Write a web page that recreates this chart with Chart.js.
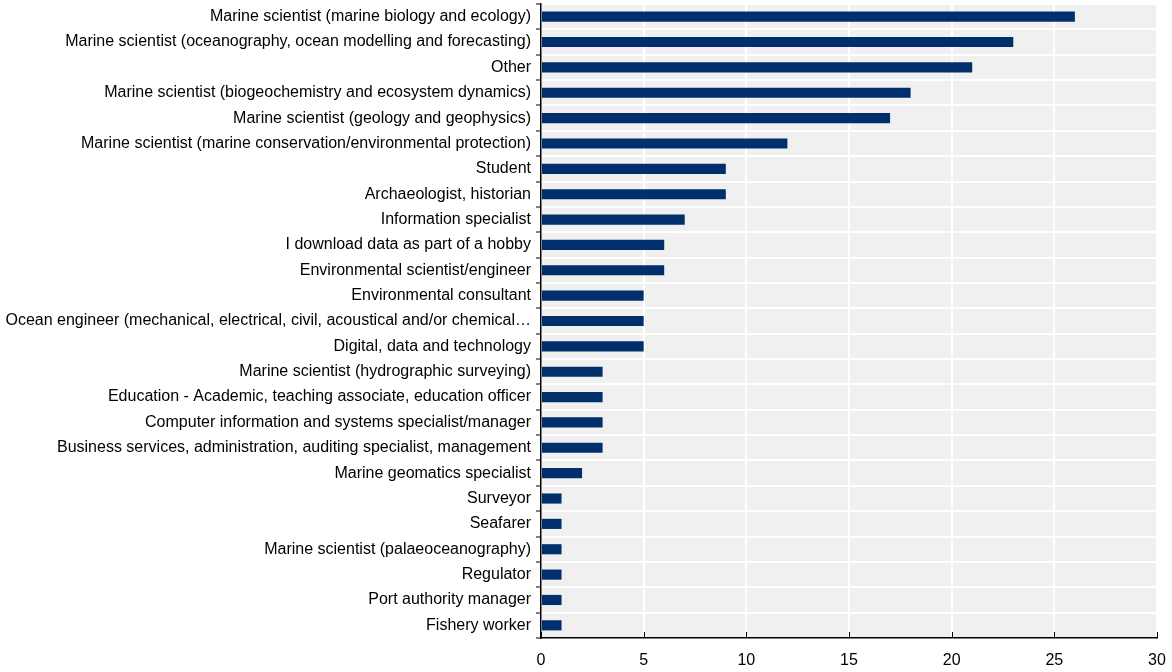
<!DOCTYPE html>
<html>
<head>
<meta charset="utf-8">
<script src="https://cdn.jsdelivr.net/npm/chart.js@4/dist/chart.umd.min.js"></script>
<style>
  html, body { margin: 0; padding: 0; background: #fff; }
  #wrap { width: 1172px; height: 672px; position: relative; }
</style>
</head>
<body>
<div id="wrap"><canvas id="chart"></canvas></div>
<script>
// Data
const categories = [
  'Marine scientist (marine biology and ecology)',
  'Marine scientist (oceanography, ocean modelling and forecasting)',
  'Other',
  'Marine scientist (biogeochemistry and ecosystem dynamics)',
  'Marine scientist (geology and geophysics)',
  'Marine scientist (marine conservation/environmental protection)',
  'Student',
  'Archaeologist, historian',
  'Information specialist',
  'I download data as part of a hobby',
  'Environmental scientist/engineer',
  'Environmental consultant',
  'Ocean engineer (mechanical, electrical, civil, acoustical and/or chemical…',
  'Digital, data and technology',
  'Marine scientist (hydrographic surveying)',
  'Education - Academic, teaching associate, education officer',
  'Computer information and systems specialist/manager',
  'Business services, administration, auditing specialist, management',
  'Marine geomatics specialist',
  'Surveyor',
  'Seafarer',
  'Marine scientist (palaeoceanography)',
  'Regulator',
  'Port authority manager',
  'Fishery worker'
];
const respondents = [26, 23, 21, 18, 17, 12, 9, 9, 7, 6, 6, 5, 5, 5, 3, 3, 3, 3, 2, 1, 1, 1, 1, 1, 1];
const xTicks = [0, 5, 10, 15, 20, 25, 30];

const FONT = "'Liberation Sans Narrow', 'Arial Narrow', 'Liberation Sans', Arial, sans-serif";

// plot background + inner tick marks on the x axis
const plotDecor = {
  id: 'plotDecor',
  beforeDraw(chart) {
    const { ctx, chartArea: a } = chart;
    ctx.save();
    ctx.fillStyle = '#f0f0f0';
    ctx.fillRect(a.left, a.top, a.right - a.left, a.bottom - a.top);
    ctx.restore();
  },
  afterDraw(chart) {
    const { ctx, chartArea: a, scales } = chart;
    ctx.save();
    ctx.strokeStyle = '#000';
    ctx.lineWidth = 1;
    xTicks.forEach(v => {
      const x = Math.round(scales.x.getPixelForValue(v)) + 0.5;
      ctx.beginPath();
      ctx.moveTo(x, a.bottom);
      ctx.lineTo(x, a.bottom - 6);
      ctx.stroke();
    });
    ctx.restore();
  }
};

new Chart(document.getElementById('chart'), {
  type: 'bar',
  data: {
    labels: categories,
    datasets: [{
      data: respondents,
      backgroundColor: '#002f6c',
      borderWidth: 0,
      barPercentage: 0.4,
      categoryPercentage: 1
    }]
  },
  options: {
    indexAxis: 'y',
    responsive: true,
    maintainAspectRatio: false,
    animation: false,
    layout: { padding: { top: 4, right: 15, left: 0, bottom: 0 } },
    plugins: {
      legend: { display: false },
      tooltip: { enabled: false }
    },
    scales: {
      x: {
        min: 0,
        max: 30,
        afterBuildTicks(scale) {
          scale.ticks = xTicks.map(v => ({ value: v }));
        },
        afterFit(scale) {
          scale.height = 34;
          scale.paddingLeft = 0;
          scale.paddingRight = 0;
        },
        grid: { color: '#fff', lineWidth: 2, drawTicks: false },
        border: { color: '#000', width: 1.5 },
        ticks: {
          color: '#000',
          padding: 13,
          font: { family: FONT, size: 16 }
        }
      },
      y: {
        afterFit(scale) {
          scale.width = 541;
          scale.paddingTop = 0;
          scale.paddingBottom = 0;
        },
        grid: { color: '#fff', lineWidth: 2, tickColor: '#000', tickLength: 5, tickWidth: 1 },
        border: { color: '#000', width: 1.5 },
        ticks: {
          color: '#000',
          padding: 5,
          autoSkip: false,
          font: { family: FONT, size: 16 }
        }
      }
    }
  },
  plugins: [plotDecor]
});
</script>
</body>
</html>
